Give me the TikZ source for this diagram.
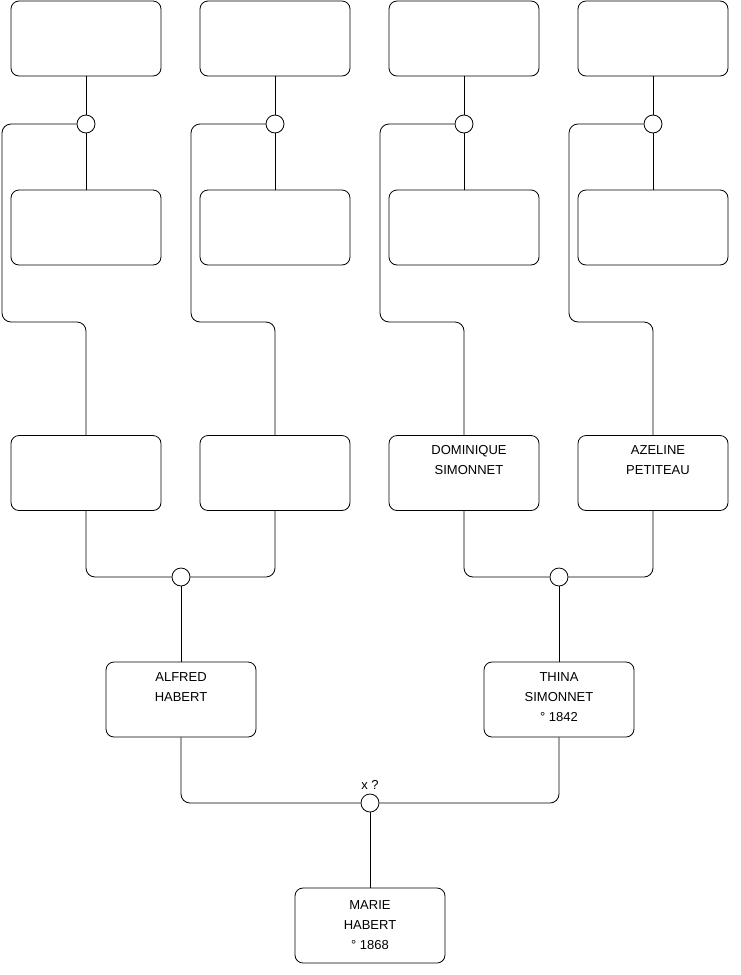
\documentclass[tikz,border=0pt]{standalone}
\usepackage{fontspec}
\setmainfont{Liberation Sans}
\usetikzlibrary{positioning}
\tikzset{
  fiche/.style={
    rectangle, rounded corners=8pt, draw=black, line width=0.8pt,
    fill=white, minimum width=150pt, minimum height=75pt, inner sep=0pt
  },
  nomtexte/.style={
    anchor=north, yshift=-10.5pt, inner sep=0pt, align=center,
    font=\fontsize{13}{20}\selectfont
  },
  nom/.style={label={[nomtexte]north:{#1}}},
  union/.style={
    circle, draw=black, line width=0.8pt, fill=white,
    minimum size=18pt, inner sep=0pt
  },
  lien/.style={line width=0.8pt, draw=black, rounded corners=9pt}
}

\begin{document}
\begin{tikzpicture}[x=1pt, y=-1pt]
  \useasboundingbox (0,0) rectangle (740,975);

  % generation 1
  \node[fiche] (a1) at (86,38.5) {};
  \node[fiche] (a2) at (275,38.5) {};
  \node[fiche] (a3) at (464,38.5) {};
  \node[fiche] (a4) at (653,38.5) {};

  \node[union] (ua1) at (86,124) {};
  \node[union] (ua2) at (275,124) {};
  \node[union] (ua3) at (464,124) {};
  \node[union] (ua4) at (653,124) {};

  \node[fiche] (b1) at (86,227.5) {};
  \node[fiche] (b2) at (275,227.5) {};
  \node[fiche] (b3) at (464,227.5) {};
  \node[fiche] (b4) at (653,227.5) {};

  % generation 2
  \node[fiche] (c1) at (86,473) {};
  \node[fiche] (c2) at (275,473) {};
  \node[fiche, label={[nomtexte, xshift=5pt]north:{DOMINIQUE\\SIMONNET}}] (dominique) at (464,473) {};
  \node[fiche, label={[nomtexte, xshift=5pt]north:{AZELINE\\PETITEAU}}] (azeline) at (653,473) {};

  \node[union] (ub1) at (181,577) {};
  \node[union] (ub2) at (559,577) {};

  % parents
  \node[fiche, nom={ALFRED\\HABERT}] (alfred) at (181,699.5) {};
  \node[fiche, nom={THINA\\SIMONNET\\° 1842}] (thina) at (559,699.5) {};

  \node[union] (mariage) at (370,803) {};
  \node[inner sep=0pt, font=\fontsize{13}{20}\selectfont, above=4pt of mariage] (xq) {x ?};

  \node[fiche, label={[nomtexte, yshift=-2.5pt]north:{MARIE\\HABERT\\° 1868}}] (marie) at (370,925.5) {};

  % liens
  \draw[lien] (a1) -- (ua1);
  \draw[lien] (ua1) -- (b1);
  \draw[lien] (a2) -- (ua2);
  \draw[lien] (ua2) -- (b2);
  \draw[lien] (a3) -- (ua3);
  \draw[lien] (ua3) -- (b3);
  \draw[lien] (a4) -- (ua4);
  \draw[lien] (ua4) -- (b4);

  \draw[lien] (ua1.west) -| (2,322) -| (c1.north);
  \draw[lien] (ua2.west) -| (191,322) -| (c2.north);
  \draw[lien] (ua3.west) -| (380,322) -| (dominique.north);
  \draw[lien] (ua4.west) -| (569,322) -| (azeline.north);

  \draw[lien] (c1.south) |- (ub1.west);
  \draw[lien] (c2.south) |- (ub1.east);
  \draw[lien] (dominique.south) |- (ub2.west);
  \draw[lien] (azeline.south) |- (ub2.east);

  \draw[lien] (ub1) -- (alfred);
  \draw[lien] (ub2) -- (thina);

  \draw[lien] (alfred.south) |- (mariage.west);
  \draw[lien] (thina.south) |- (mariage.east);
  \draw[lien] (mariage) -- (marie);
\end{tikzpicture}
\end{document}
